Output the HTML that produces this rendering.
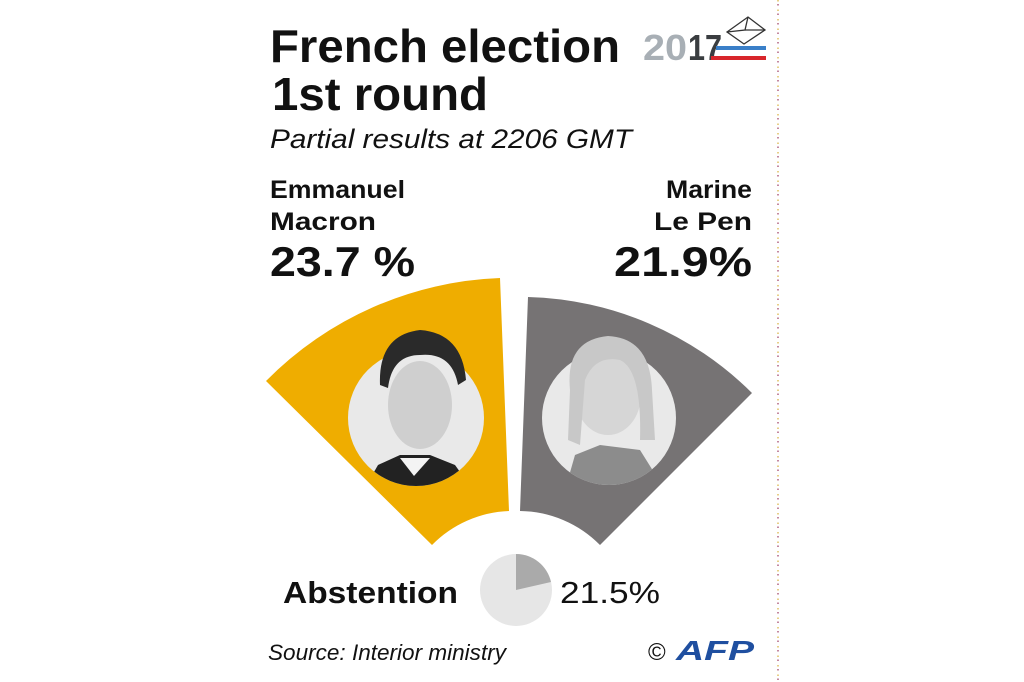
<!DOCTYPE html>
<html><head><meta charset="utf-8"><style>
html,body{margin:0;padding:0;background:#fff;}
svg{display:block;}
text{font-family:"Liberation Sans",sans-serif;fill:#111;}
</style></head><body>
<svg width="1024" height="682" viewBox="0 0 1024 682" xmlns="http://www.w3.org/2000/svg">
<rect width="1024" height="682" fill="#fff"/>
<line x1="778" y1="0" x2="778" y2="682" stroke="#e0c060" stroke-width="1.5" stroke-dasharray="1.5,8"/>
<line x1="778" y1="4" x2="778" y2="682" stroke="#b06080" stroke-width="1.5" stroke-dasharray="1.5,8"/>

<text x="270" y="62" font-size="46" font-weight="bold" textLength="350" lengthAdjust="spacingAndGlyphs">French election</text>
<text x="272" y="110" font-size="46" font-weight="bold" textLength="216" lengthAdjust="spacingAndGlyphs">1st round</text>
<text x="270" y="148" font-size="27" font-style="italic" textLength="362" lengthAdjust="spacingAndGlyphs">Partial results at 2206 GMT</text>

<text x="643" y="60" font-size="36" font-weight="bold" style="fill:#a8afb5" textLength="44" lengthAdjust="spacingAndGlyphs">20</text>
<text x="688" y="60" font-size="36" font-weight="bold" style="fill:#3a3d40" textLength="34" lengthAdjust="spacingAndGlyphs">17</text>
<rect x="716" y="46" width="50" height="4" fill="#3a7fc8"/>
<rect x="711" y="56" width="55" height="4" fill="#d8262b"/>
<g fill="none" stroke="#333" stroke-width="1.3">
<polygon points="727,32 748,17 765,30 744,44"/>
<polyline points="727,32 745,30 748,17"/>
<polyline points="745,30 765,30"/>
</g>

<text x="270" y="198" font-size="25" font-weight="bold" textLength="135" lengthAdjust="spacingAndGlyphs">Emmanuel</text>
<text x="270" y="230" font-size="25" font-weight="bold" textLength="106" lengthAdjust="spacingAndGlyphs">Macron</text>
<text x="270" y="276" font-size="42" font-weight="bold" textLength="145" lengthAdjust="spacingAndGlyphs">23.7 %</text>
<text x="752" y="198" font-size="25" font-weight="bold" text-anchor="end" textLength="86" lengthAdjust="spacingAndGlyphs">Marine</text>
<text x="752" y="230" font-size="25" font-weight="bold" text-anchor="end" textLength="98" lengthAdjust="spacingAndGlyphs">Le Pen</text>
<text x="752" y="276" font-size="42" font-weight="bold" text-anchor="end" textLength="138" lengthAdjust="spacingAndGlyphs">21.9%</text>

<path d="M266,381 A347,347 0 0 1 500,278 L509,511 A114,114 0 0 0 432,545 Z" fill="#efad00"/>
<path d="M528,297 A330,330 0 0 1 752,393 L600,545 A114,114 0 0 0 520,511 Z" fill="#767374"/>

<defs>
<clipPath id="c1"><circle cx="416" cy="418" r="68"/></clipPath>
<clipPath id="c2"><circle cx="609" cy="418" r="67"/></clipPath>
</defs>
<circle cx="416" cy="418" r="68" fill="#e9e9e9"/>
<g clip-path="url(#c1)">
<path d="M366,486 L378,465 L400,455 L430,455 L455,465 L470,486 Z" fill="#222"/>
<path d="M400,458 L414,476 L430,458 Z" fill="#f4f4f4"/>
<ellipse cx="420" cy="405" rx="32" ry="44" fill="#cfcfcf"/>
</g>
<path d="M380,385 Q378,335 420,330 Q462,333 466,380 L458,385 Q452,352 420,355 Q392,355 388,388 Z" fill="#2a2a2a"/>
<circle cx="609" cy="418" r="67" fill="#e9e9e9"/>
<g clip-path="url(#c2)">
<path d="M565,490 L575,455 L600,445 L640,450 L665,490 Z" fill="#8c8c8c"/>
<ellipse cx="608" cy="395" rx="33" ry="40" fill="#d6d6d6"/>
</g>
<path d="M570,390 Q565,340 608,336 Q650,338 652,390 L655,440 L640,440 Q642,370 620,360 Q595,355 585,380 L580,445 L568,440 Z" fill="#c8c8c8"/>

<text x="283" y="603" font-size="31" font-weight="bold" textLength="175" lengthAdjust="spacingAndGlyphs">Abstention</text>
<circle cx="516" cy="590" r="36" fill="#e6e6e6"/>
<path d="M516,590 L516,554 A36,36 0 0 1 551,582 Z" fill="#aaaaaa"/>
<text x="560" y="603" font-size="31" textLength="100" lengthAdjust="spacingAndGlyphs">21.5%</text>

<text x="268" y="660" font-size="22" font-style="italic" textLength="238" lengthAdjust="spacingAndGlyphs">Source: Interior ministry</text>
<text x="648" y="660" font-size="24">©</text>
<text x="676" y="660" font-size="28" font-weight="bold" font-style="italic" style="fill:#1f4fa0" textLength="78" lengthAdjust="spacingAndGlyphs">AFP</text>
</svg>
</body></html>
